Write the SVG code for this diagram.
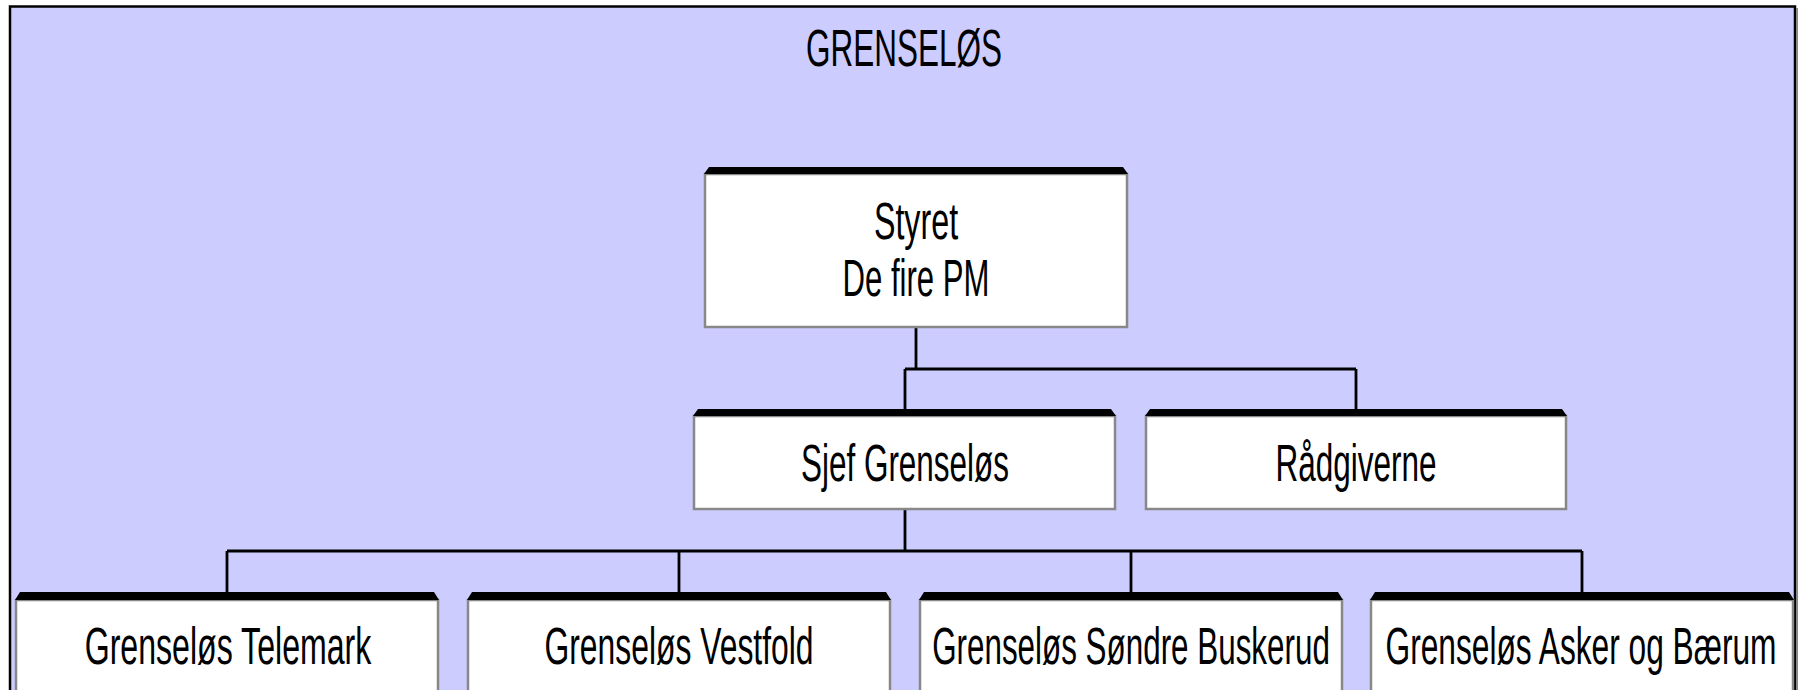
<svg xmlns="http://www.w3.org/2000/svg" width="1802" height="690" viewBox="0 0 1802 690">
  <style>
    .frame { fill: #CCCCFF; stroke: #000; stroke-width: 2.5; }
    .shadow { fill: none; stroke: #888; stroke-width: 2; }
    .box { fill: #FFFFFF; stroke: #888; stroke-width: 2.5; }
    .bar { fill: #000; }
    .lbl { font-family: "Liberation Sans", Arial, sans-serif; font-size: 52px; fill: #000; text-anchor: middle; }
    .conn { fill: none; stroke: #000; stroke-width: 2.8; }
  </style>
  <rect width="1802" height="690" fill="#FFFFFF"/>
  <rect class="frame" x="10" y="6.5" width="1785" height="700"/>
  <line class="shadow" x1="1797" y1="8" x2="1797" y2="690"/>
  <text class="lbl" transform="translate(904,66) scale(0.61,1)" textLength="321" lengthAdjust="spacingAndGlyphs">GRENSELØS</text>

  <g id="connectors">
    <path class="conn" d="M916,328 V369 M905,369 H1356 M905,369 V409 M1356,369 V409"/>
    <path class="conn" d="M905,509 V551 M227,551 H1582 M227,551 V592 M679,551 V592 M1131,551 V592 M1582,551 V592"/>
  </g>

  <g id="styret">
    <rect class="box" x="705" y="174" width="422" height="153"/>
    <path class="bar" d="M709,167 H1123 L1128,174 H704 Z"/>
    <text class="lbl" transform="translate(916,239) scale(0.61,1)" textLength="138" lengthAdjust="spacingAndGlyphs">Styret</text>
    <text class="lbl" transform="translate(916,296) scale(0.61,1)" textLength="241" lengthAdjust="spacingAndGlyphs">De fire PM</text>
  </g>

  <g id="sjef">
    <rect class="box" x="694" y="416" width="421" height="93"/>
    <path class="bar" d="M698,409 H1111 L1116,416 H693 Z"/>
    <text class="lbl" transform="translate(905,481) scale(0.61,1)" textLength="341" lengthAdjust="spacingAndGlyphs">Sjef Grenseløs</text>
  </g>

  <g id="radgiverne">
    <rect class="box" x="1146" y="416" width="420" height="93"/>
    <path class="bar" d="M1150,409 H1562 L1567,416 H1145 Z"/>
    <text class="lbl" transform="translate(1356,481) scale(0.61,1)" textLength="264" lengthAdjust="spacingAndGlyphs">Rådgiverne</text>
  </g>

  <g id="telemark">
    <rect class="box" x="16" y="600" width="422" height="110"/>
    <path class="bar" d="M20,592 H434 L439,600 H15 Z"/>
    <text class="lbl" transform="translate(228,664) scale(0.61,1)" textLength="470" lengthAdjust="spacingAndGlyphs">Grenseløs Telemark</text>
  </g>

  <g id="vestfold">
    <rect class="box" x="468" y="600" width="422" height="110"/>
    <path class="bar" d="M472,592 H886 L891,600 H467 Z"/>
    <text class="lbl" transform="translate(679,664) scale(0.61,1)" textLength="441" lengthAdjust="spacingAndGlyphs">Grenseløs Vestfold</text>
  </g>

  <g id="sondre-buskerud">
    <rect class="box" x="920" y="600" width="422" height="110"/>
    <path class="bar" d="M924,592 H1338 L1343,600 H919 Z"/>
    <text class="lbl" transform="translate(1131,664) scale(0.61,1)" textLength="652" lengthAdjust="spacingAndGlyphs">Grenseløs Søndre Buskerud</text>
  </g>

  <g id="asker-baerum">
    <rect class="box" x="1371" y="600" width="422" height="110"/>
    <path class="bar" d="M1375,592 H1789 L1794,600 H1370 Z"/>
    <text class="lbl" transform="translate(1581,664) scale(0.61,1)" textLength="641" lengthAdjust="spacingAndGlyphs">Grenseløs Asker og Bærum</text>
  </g>
</svg>
